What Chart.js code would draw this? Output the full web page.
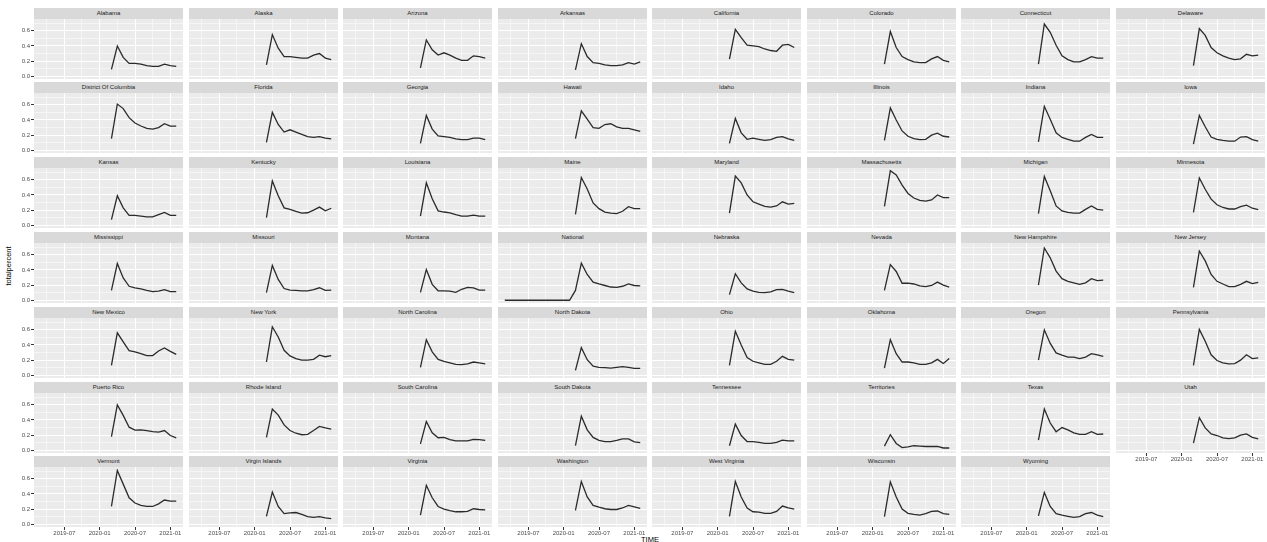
<!DOCTYPE html>
<html>
<head>
<meta charset="utf-8">
<title>totalpercent by state</title>
<script src="https://cdn.jsdelivr.net/npm/chart.js@4/dist/chart.umd.min.js"></script>
<style>
  body { margin: 0; background: #fff; width: 1267px; height: 542px; overflow: hidden; position: relative; font-family: "Liberation Sans", Arial, sans-serif; }
  .strip { position: absolute; height: 11px; line-height: 11px; background: #d9d9d9; color: #1a1a1a; font-size: 6px; text-align: center; white-space: nowrap; overflow: hidden; }
  .panel { position: absolute; }
  #ytitle { position: absolute; left: 8px; top: 266px; transform: translate(-50%, -50%) rotate(-90deg); font-size: 7.5px; color: #000; white-space: nowrap; }
  #xtitle { position: absolute; left: 650px; top: 539px; transform: translate(-50%, -50%); font-size: 7.5px; color: #000; }
</style>
</head>
<body>
<div id="ytitle">totalpercent</div>
<div id="xtitle">TIME</div>
<script>
// months on the x axis, 2019-03 .. 2021-02
var monthLabels = ['2019-03', '2019-04', '2019-05', '2019-06', '2019-07', '2019-08', '2019-09', '2019-10',
  '2019-11', '2019-12', '2020-01', '2020-02', '2020-03', '2020-04', '2020-05', '2020-06', '2020-07',
  '2020-08', '2020-09', '2020-10', '2020-11', '2020-12', '2021-01', '2021-02'];
var majorMonths = ['2019-07', '2020-01', '2020-07', '2021-01'];
var minorMonths = ['2019-04', '2019-10', '2020-04', '2020-10'];
var yMajor = [0, 0.2, 0.4, 0.6];
var yMinor = [0.1, 0.3, 0.5, 0.7];

// monthly values, 2020-03 .. 2021-02 (national goes back to 2019-03)
var alabama = [0.09, 0.40, 0.25, 0.17, 0.17, 0.16, 0.14, 0.13, 0.13, 0.16, 0.14, 0.13];
var alaska = [0.15, 0.55, 0.37, 0.26, 0.26, 0.25, 0.24, 0.24, 0.28, 0.30, 0.24, 0.22];
var arizona = [0.11, 0.48, 0.35, 0.28, 0.31, 0.28, 0.24, 0.21, 0.21, 0.27, 0.26, 0.24];
var arkansas = [0.085, 0.43, 0.26, 0.18, 0.17, 0.15, 0.14, 0.14, 0.15, 0.18, 0.16, 0.19];
var california = [0.225, 0.62, 0.51, 0.41, 0.40, 0.39, 0.36, 0.34, 0.33, 0.41, 0.42, 0.38];
var colorado = [0.16, 0.59, 0.38, 0.26, 0.22, 0.19, 0.18, 0.18, 0.23, 0.26, 0.21, 0.19];
var connecticut = [0.16, 0.69, 0.58, 0.41, 0.27, 0.22, 0.19, 0.19, 0.22, 0.26, 0.24, 0.24];
var delaware = [0.14, 0.63, 0.54, 0.38, 0.31, 0.27, 0.24, 0.22, 0.23, 0.29, 0.27, 0.28];
var districtOfColumbia = [0.155, 0.61, 0.55, 0.43, 0.36, 0.32, 0.29, 0.28, 0.30, 0.35, 0.32, 0.32];
var florida = [0.105, 0.50, 0.34, 0.24, 0.27, 0.24, 0.21, 0.18, 0.17, 0.18, 0.16, 0.15];
var georgia = [0.09, 0.46, 0.28, 0.19, 0.18, 0.17, 0.15, 0.14, 0.14, 0.16, 0.16, 0.14];
var hawaii = [0.155, 0.52, 0.41, 0.30, 0.29, 0.34, 0.35, 0.31, 0.29, 0.29, 0.27, 0.25];
var idaho = [0.09, 0.42, 0.23, 0.145, 0.16, 0.145, 0.13, 0.14, 0.17, 0.18, 0.15, 0.13];
var illinois = [0.13, 0.56, 0.40, 0.255, 0.185, 0.155, 0.14, 0.145, 0.20, 0.225, 0.185, 0.175];
var indiana = [0.11, 0.58, 0.41, 0.23, 0.17, 0.145, 0.12, 0.12, 0.17, 0.21, 0.17, 0.17];
var iowa = [0.08, 0.46, 0.31, 0.175, 0.145, 0.13, 0.12, 0.12, 0.175, 0.18, 0.14, 0.12];
var kansas = [0.075, 0.39, 0.23, 0.13, 0.13, 0.12, 0.11, 0.11, 0.14, 0.17, 0.13, 0.13];
var kentucky = [0.10, 0.585, 0.39, 0.23, 0.21, 0.185, 0.16, 0.165, 0.20, 0.24, 0.19, 0.225];
var louisiana = [0.12, 0.56, 0.35, 0.19, 0.175, 0.165, 0.14, 0.12, 0.12, 0.135, 0.12, 0.12];
var maine = [0.145, 0.63, 0.48, 0.295, 0.22, 0.175, 0.16, 0.155, 0.185, 0.245, 0.22, 0.22];
var maryland = [0.16, 0.65, 0.56, 0.40, 0.31, 0.28, 0.25, 0.24, 0.255, 0.31, 0.28, 0.29];
var massachusetts = [0.25, 0.72, 0.665, 0.53, 0.42, 0.36, 0.33, 0.32, 0.335, 0.40, 0.365, 0.365];
var michigan = [0.155, 0.645, 0.455, 0.255, 0.19, 0.17, 0.16, 0.16, 0.21, 0.255, 0.21, 0.20];
var minnesota = [0.17, 0.625, 0.475, 0.345, 0.27, 0.235, 0.215, 0.215, 0.245, 0.265, 0.225, 0.205];
var mississippi = [0.13, 0.485, 0.295, 0.185, 0.165, 0.15, 0.13, 0.115, 0.12, 0.14, 0.115, 0.115];
var missouri = [0.10, 0.46, 0.275, 0.155, 0.135, 0.13, 0.125, 0.125, 0.14, 0.165, 0.13, 0.135];
var montana = [0.105, 0.405, 0.21, 0.125, 0.125, 0.12, 0.105, 0.145, 0.17, 0.165, 0.135, 0.135];
var national = [0, 0, 0, 0, 0, 0, 0, 0, 0, 0, 0, 0,
  0.13, 0.49, 0.34, 0.24, 0.215, 0.195, 0.175, 0.17, 0.185, 0.215, 0.195, 0.19];
var nebraska = [0.075, 0.35, 0.23, 0.15, 0.12, 0.105, 0.10, 0.11, 0.14, 0.145, 0.12, 0.10];
var nevada = [0.13, 0.47, 0.38, 0.225, 0.225, 0.215, 0.19, 0.18, 0.195, 0.24, 0.20, 0.175];
var newHampshire = [0.20, 0.69, 0.56, 0.385, 0.285, 0.25, 0.23, 0.21, 0.23, 0.285, 0.26, 0.265];
var newJersey = [0.17, 0.65, 0.52, 0.34, 0.25, 0.215, 0.18, 0.18, 0.21, 0.25, 0.22, 0.235];
var newMexico = [0.13, 0.56, 0.44, 0.325, 0.31, 0.285, 0.26, 0.26, 0.32, 0.36, 0.315, 0.275];
var newYork = [0.175, 0.64, 0.505, 0.33, 0.255, 0.22, 0.20, 0.20, 0.21, 0.265, 0.245, 0.26];
var northCarolina = [0.105, 0.47, 0.31, 0.21, 0.185, 0.165, 0.145, 0.14, 0.15, 0.175, 0.165, 0.15];
var northDakota = [0.065, 0.365, 0.205, 0.12, 0.105, 0.10, 0.095, 0.105, 0.115, 0.105, 0.09, 0.09];
var ohio = [0.13, 0.58, 0.40, 0.235, 0.185, 0.165, 0.145, 0.145, 0.185, 0.25, 0.21, 0.20];
var oklahoma = [0.095, 0.47, 0.285, 0.175, 0.175, 0.165, 0.145, 0.145, 0.165, 0.21, 0.155, 0.22];
var oregon = [0.20, 0.60, 0.42, 0.295, 0.265, 0.24, 0.24, 0.22, 0.24, 0.285, 0.27, 0.25];
var pennsylvania = [0.13, 0.605, 0.45, 0.27, 0.195, 0.165, 0.15, 0.155, 0.20, 0.27, 0.22, 0.23];
var puertoRico = [0.18, 0.60, 0.46, 0.305, 0.265, 0.27, 0.26, 0.245, 0.24, 0.26, 0.195, 0.165];
var rhodeIsland = [0.17, 0.545, 0.465, 0.335, 0.26, 0.225, 0.205, 0.21, 0.26, 0.315, 0.295, 0.28];
var southCarolina = [0.085, 0.38, 0.23, 0.165, 0.17, 0.14, 0.125, 0.125, 0.125, 0.145, 0.14, 0.13];
var southDakota = [0.06, 0.45, 0.27, 0.17, 0.13, 0.115, 0.115, 0.13, 0.15, 0.15, 0.11, 0.10];
var tennessee = [0.06, 0.345, 0.195, 0.115, 0.115, 0.105, 0.09, 0.09, 0.105, 0.135, 0.125, 0.125];
var territories = [0.055, 0.205, 0.09, 0.035, 0.045, 0.06, 0.055, 0.05, 0.05, 0.05, 0.03, 0.03];
var texas = [0.135, 0.545, 0.36, 0.245, 0.30, 0.27, 0.23, 0.21, 0.21, 0.245, 0.21, 0.215];
var utah = [0.095, 0.43, 0.295, 0.215, 0.195, 0.165, 0.155, 0.165, 0.20, 0.215, 0.17, 0.15];
var vermont = [0.235, 0.71, 0.53, 0.35, 0.28, 0.25, 0.235, 0.235, 0.27, 0.32, 0.305, 0.305];
var virginIslands = [0.105, 0.425, 0.235, 0.14, 0.15, 0.155, 0.13, 0.10, 0.09, 0.10, 0.085, 0.075];
var virginia = [0.12, 0.515, 0.35, 0.235, 0.20, 0.18, 0.165, 0.165, 0.17, 0.205, 0.195, 0.19];
var washington = [0.185, 0.565, 0.36, 0.25, 0.225, 0.205, 0.195, 0.195, 0.215, 0.25, 0.23, 0.21];
var westVirginia = [0.105, 0.565, 0.36, 0.215, 0.165, 0.16, 0.145, 0.145, 0.17, 0.24, 0.215, 0.20];
var wisconsin = [0.10, 0.56, 0.36, 0.20, 0.145, 0.13, 0.12, 0.14, 0.17, 0.175, 0.14, 0.13];
var wyoming = [0.11, 0.42, 0.235, 0.14, 0.12, 0.105, 0.09, 0.10, 0.14, 0.155, 0.12, 0.10];

var panels = [
  ['Alabama', alabama], ['Alaska', alaska], ['Arizona', arizona], ['Arkansas', arkansas],
  ['California', california], ['Colorado', colorado], ['Connecticut', connecticut], ['Delaware', delaware],
  ['District Of Columbia', districtOfColumbia], ['Florida', florida], ['Georgia', georgia], ['Hawaii', hawaii],
  ['Idaho', idaho], ['Illinois', illinois], ['Indiana', indiana], ['Iowa', iowa],
  ['Kansas', kansas], ['Kentucky', kentucky], ['Louisiana', louisiana], ['Maine', maine],
  ['Maryland', maryland], ['Massachusetts', massachusetts], ['Michigan', michigan], ['Minnesota', minnesota],
  ['Mississippi', mississippi], ['Missouri', missouri], ['Montana', montana], ['National', national],
  ['Nebraska', nebraska], ['Nevada', nevada], ['New Hampshire', newHampshire], ['New Jersey', newJersey],
  ['New Mexico', newMexico], ['New York', newYork], ['North Carolina', northCarolina], ['North Dakota', northDakota],
  ['Ohio', ohio], ['Oklahoma', oklahoma], ['Oregon', oregon], ['Pennsylvania', pennsylvania],
  ['Puerto Rico', puertoRico], ['Rhode Island', rhodeIsland], ['South Carolina', southCarolina], ['South Dakota', southDakota],
  ['Tennessee', tennessee], ['Territories', territories], ['Texas', texas], ['Utah', utah],
  ['Vermont', vermont], ['Virgin Islands', virginIslands], ['Virginia', virginia], ['Washington', washington],
  ['West Virginia', westVirginia], ['Wisconsin', wisconsin], ['Wyoming', wyoming]
];

// facet grid geometry
var NCOL = 8;
var LEFT = 34, TOP = 7.5;
var PANEL_W = 149, PANEL_H = 60, STRIP_H = 11;
var PITCH_X = 154.5, PITCH_Y = 74.8;
var YAXIS_W = 30, XAXIS_H = 13;

var xMajorIdx = majorMonths.map(function (m) { return monthLabels.indexOf(m); });
var xMinorIdx = minorMonths.map(function (m) { return monthLabels.indexOf(m); });
var xGrid = xMajorIdx.concat(xMinorIdx).sort(function (a, b) { return a - b; });
var yGrid = yMajor.concat(yMinor).sort(function (a, b) { return a - b; });
var xPad = (monthLabels.length - 1) * 0.05;

function isMajorY(v) {
  return yMajor.some(function (m) { return Math.abs(m - v) < 1e-6; });
}

var panelBackground = {
  id: 'panelBackground',
  beforeDraw: function (chart) {
    var a = chart.chartArea;
    var ctx = chart.ctx;
    ctx.save();
    ctx.fillStyle = '#ebebeb';
    ctx.fillRect(a.left, a.top, a.right - a.left, a.bottom - a.top);
    ctx.restore();
  }
};

function drawPanel(name, vals, idx) {
  var r = Math.floor(idx / NCOL);
  var c = idx % NCOL;
  var isLeft = c === 0;
  var isBottom = idx >= panels.length - NCOL;

  var x0 = Math.round(LEFT + c * PITCH_X);
  var y0 = Math.round(TOP + r * PITCH_Y);

  var strip = document.createElement('div');
  strip.className = 'strip';
  strip.style.left = x0 + 'px';
  strip.style.top = y0 + 'px';
  strip.style.width = PANEL_W + 'px';
  strip.textContent = name;
  document.body.appendChild(strip);

  var box = document.createElement('div');
  box.className = 'panel';
  box.style.left = (x0 - (isLeft ? YAXIS_W : 0)) + 'px';
  box.style.top = (y0 + STRIP_H) + 'px';
  box.style.width = (PANEL_W + (isLeft ? YAXIS_W : 0)) + 'px';
  box.style.height = (PANEL_H + (isBottom ? XAXIS_H : 0)) + 'px';
  var canvas = document.createElement('canvas');
  box.appendChild(canvas);
  document.body.appendChild(box);

  var start = monthLabels.length - vals.length;
  var points = vals.map(function (v, i) { return { x: start + i, y: v }; });

  new Chart(canvas, {
    type: 'line',
    data: {
      datasets: [{
        label: name,
        data: points,
        borderColor: '#2b2b2b',
        borderWidth: 1.3,
        pointRadius: 0,
        tension: 0,
        fill: false
      }]
    },
    options: {
      responsive: true,
      maintainAspectRatio: false,
      animation: false,
      events: [],
      layout: { padding: 0 },
      plugins: { legend: { display: false }, tooltip: { enabled: false } },
      scales: {
        x: {
          type: 'linear',
          min: -xPad,
          max: monthLabels.length - 1 + xPad,
          afterBuildTicks: function (s) { s.ticks = xGrid.map(function (v) { return { value: v }; }); },
          afterFit: function (s) {
            s.height = isBottom ? XAXIS_H : 0;
            s.paddingLeft = 0; s.paddingRight = 0;
          },
          border: { display: false },
          grid: {
            color: '#ffffff',
            lineWidth: function (ctx) { return ctx.tick && xMajorIdx.indexOf(ctx.tick.value) >= 0 ? 1 : 0.5; },
            drawTicks: isBottom,
            tickLength: 3,
            tickWidth: 1,
            tickColor: function (ctx) { return ctx.tick && xMajorIdx.indexOf(ctx.tick.value) >= 0 ? '#333333' : 'rgba(0,0,0,0)'; }
          },
          ticks: {
            display: isBottom,
            autoSkip: false,
            maxRotation: 0,
            padding: 0,
            color: '#4d4d4d',
            font: { size: 6, family: '"Liberation Sans", Arial, sans-serif' },
            callback: function (v) { return xMajorIdx.indexOf(v) >= 0 ? monthLabels[v] : ''; }
          }
        },
        y: {
          type: 'linear',
          min: -0.036,
          max: 0.756,
          afterBuildTicks: function (s) { s.ticks = yGrid.map(function (v) { return { value: v }; }); },
          afterFit: function (s) {
            s.width = isLeft ? YAXIS_W : 0;
            s.paddingTop = 0; s.paddingBottom = 0;
          },
          border: { display: false },
          grid: {
            color: '#ffffff',
            lineWidth: function (ctx) { return ctx.tick && isMajorY(ctx.tick.value) ? 1 : 0.5; },
            drawTicks: isLeft,
            tickLength: 3,
            tickWidth: 1,
            tickColor: function (ctx) { return ctx.tick && isMajorY(ctx.tick.value) ? '#333333' : 'rgba(0,0,0,0)'; }
          },
          ticks: {
            display: isLeft,
            autoSkip: false,
            padding: 1,
            color: '#4d4d4d',
            font: { size: 6, family: '"Liberation Sans", Arial, sans-serif' },
            callback: function (v) { return isMajorY(v) ? v.toFixed(1) : ''; }
          }
        }
      }
    },
    plugins: [panelBackground]
  });
}

panels.forEach(function (p, i) {
  drawPanel(p[0], p[1], i);
});
</script>
</body>
</html>
